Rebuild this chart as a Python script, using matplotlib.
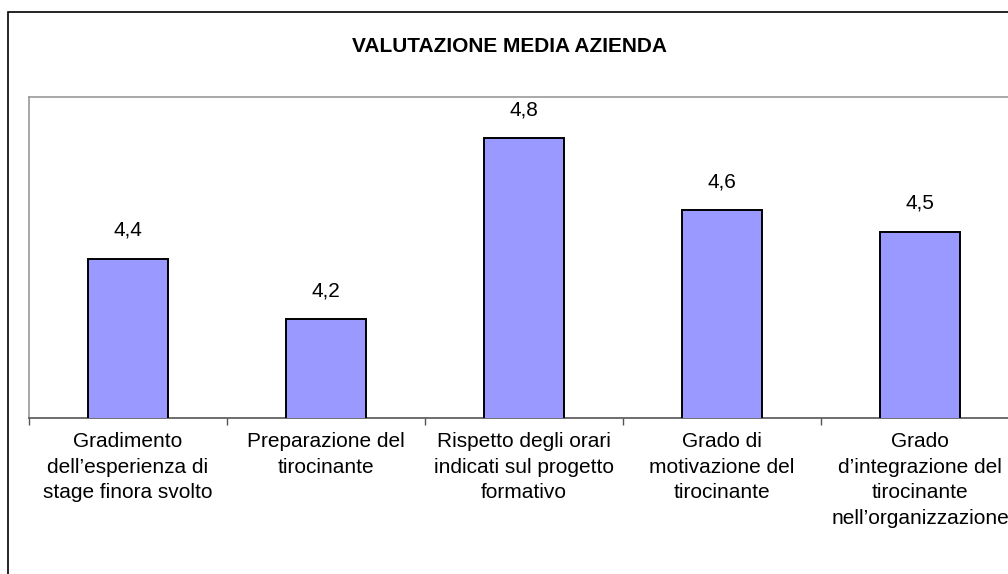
import matplotlib.pyplot as plt
from matplotlib.patches import Rectangle
from matplotlib.ticker import FixedLocator

plt.rcParams['font.family'] = ['Liberation Sans', 'DejaVu Sans']

title = "VALUTAZIONE MEDIA AZIENDA"
categories = [
    "Gradimento\ndell\u2019esperienza di\nstage finora svolto",
    "Preparazione del\ntirocinante",
    "Rispetto degli orari\nindicati sul progetto\nformativo",
    "Grado di\nmotivazione del\ntirocinante",
    "Grado\nd\u2019integrazione del\ntirocinante\nnell\u2019organizzazione",
]
values = [4.4, 4.2, 4.8, 4.56, 4.49]

W, H = 1008, 574
fig = plt.figure(figsize=(W / 100, H / 100), dpi=100)

# plot area in pixels: left 29, right 1019 (past the edge), top 97, bottom 418
ax = fig.add_axes([29 / W, (H - 418) / H, 990 / W, (418 - 97) / H])

x = list(range(len(values)))
ax.bar(x, values, width=0.4, color='#9999ff', edgecolor='black', linewidth=1.4, zorder=3)
ax.set_xlim(-0.5, len(values) - 0.5)
ax.set_ylim(3.872, 4.936)

for xi, v in zip(x, values):
    ax.annotate(f"{v:.1f}".replace('.', ','), (xi, v), xytext=(0, 13.5),
                textcoords='offset points', ha='center', va='bottom', fontsize=15)

ax.set_xticks(x)
ax.set_xticklabels(categories, fontsize=15, linespacing=1.45)
ax.tick_params(axis='x', which='major', length=0, pad=10)
ax.xaxis.set_minor_locator(FixedLocator([i - 0.5 for i in range(len(values) + 1)]))
ax.tick_params(axis='x', which='minor', length=5, width=1, color='#555555', direction='out')
ax.set_yticks([])

for side in ['left', 'top', 'right']:
    ax.spines[side].set_color('#999999')
    ax.spines[side].set_linewidth(1.2)
ax.spines['bottom'].set_color('#555555')
ax.spines['bottom'].set_linewidth(1.2)

fig.text(509 / W, 1 - 46 / H, title, ha='center', va='center', fontsize=15, fontweight='bold')

# outer chart frame, cut off on right and bottom
fig.patches.append(Rectangle((8 / W, -0.5), 2, 1.5 - 12 / H, transform=fig.transFigure,
                             fill=False, edgecolor='black', linewidth=1.2))

fig.savefig('out.png', dpi=100)
